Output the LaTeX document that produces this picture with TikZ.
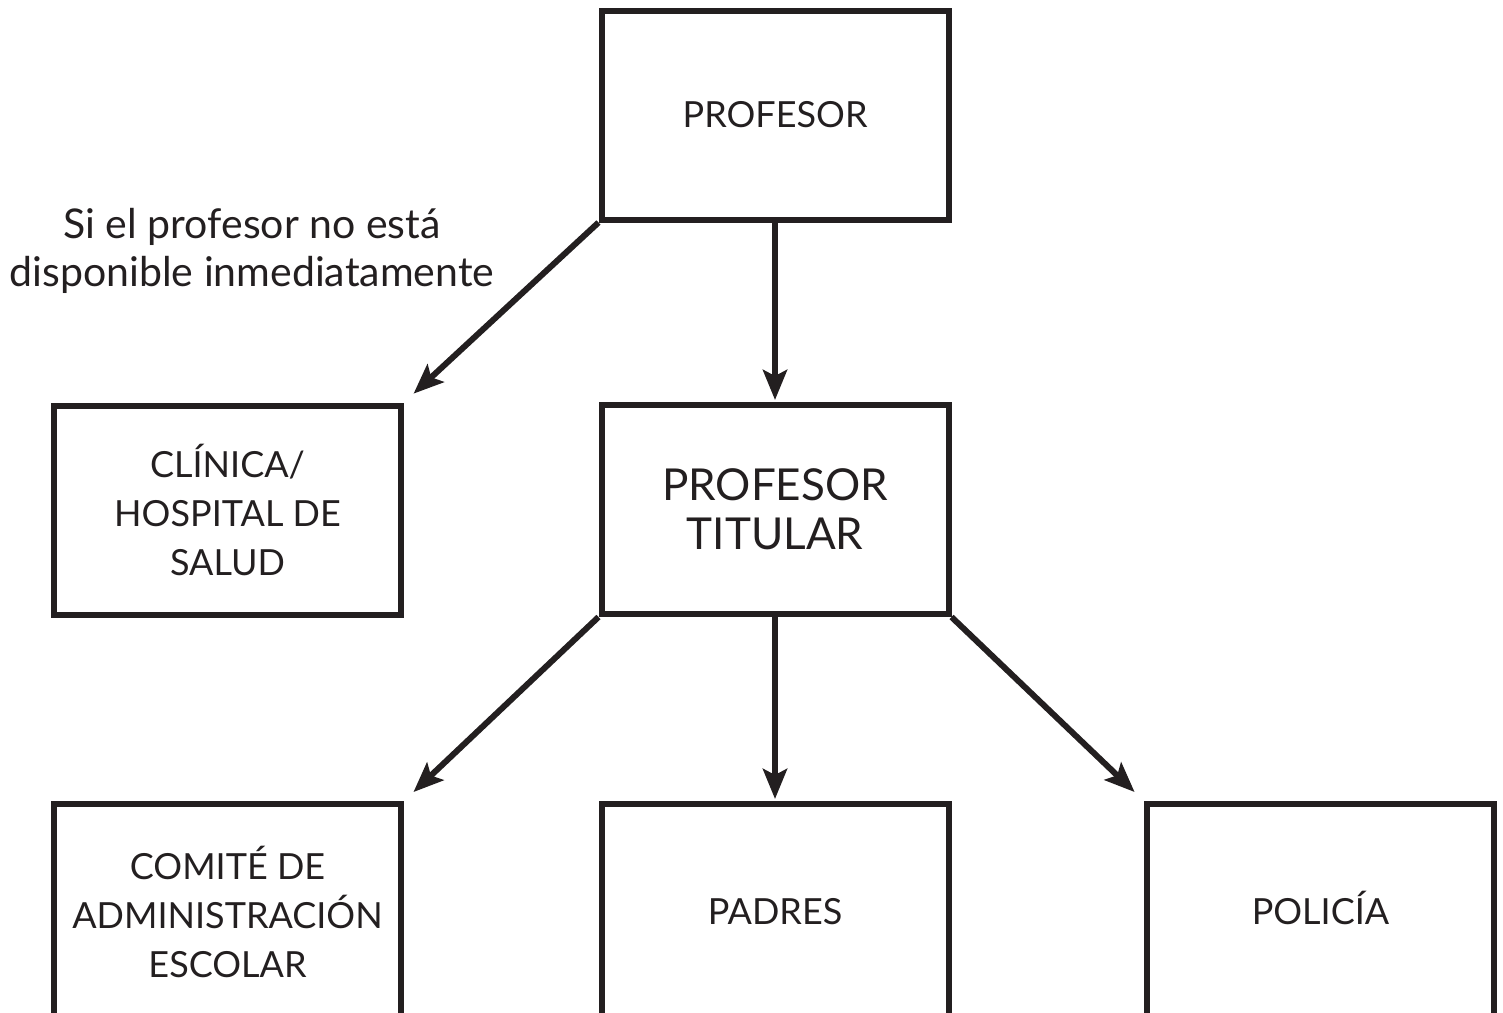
\documentclass[tikz,border=0pt]{standalone}
\usepackage{fontspec}
\setmainfont{Lato}
\usetikzlibrary{arrows.meta}
\definecolor{ink}{RGB}{35,31,32}
\begin{document}
\begin{tikzpicture}[x=0.5pt,y=-0.5pt,
  box/.style={draw=ink, line width=3pt, minimum width=173.5pt, minimum height=104.5pt,
    inner sep=0pt, align=center, text=ink, font=\fontsize{18}{24.5}\selectfont},
  lowbox/.style={box, minimum height=107.5pt},
  oneline/.style={text height=13pt, text depth=0pt},
  bigtext/.style={font=\fontsize{22}{24.5}\selectfont},
  arr/.style={draw=ink, line width=3pt, -{Stealth[length=15pt,width=12pt,inset=3pt]}},
  note/.style={align=center, text=ink, font=\fontsize{20.5}{24}\selectfont}]
\useasboundingbox (0,0) rectangle (1503,1012);
\clip (0,0) rectangle (1503,1012);
\node[box] (prof) at (775,115) {PROFESOR};
\node[box] (clinica) at (227.5,510) {CLÍNICA/\\HOSPITAL DE\\SALUD};
\node[box, bigtext] (titular) at (775,509.5) {PROFESOR\\TITULAR};
\node[lowbox] (comite) at (227.5,911.5) {COMITÉ DE\\ADMINISTRACIÓN\\ESCOLAR};
\node[lowbox, oneline] (padres) at (775,911.5) {PADRES};
\node[lowbox, oneline] (policia) at (1320.5,911.5) {POLICÍA};
\node[note] (cond) at (252,251) {Si el profesor no está\\disponible inmediatamente};
\draw[arr, shorten >=1pt] (prof.south) -- (titular.north);
\draw[arr, shorten >=6.5pt] (prof.south west) -- (clinica.north east);
\draw[arr, shorten >=6.5pt] (titular.south west) -- (comite.north east);
\draw[arr, shorten >=1pt] (titular.south) -- (padres.north);
\draw[arr, shorten >=6.5pt] (titular.south east) -- (policia.north west);
\end{tikzpicture}
\end{document}
